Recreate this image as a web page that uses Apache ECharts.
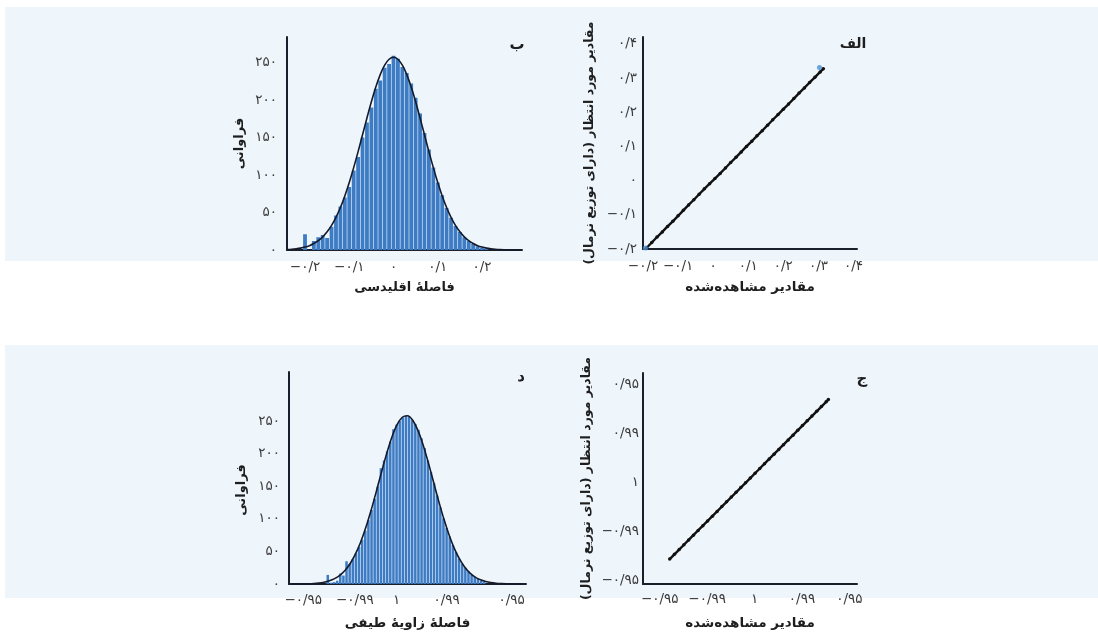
<!DOCTYPE html>
<html><head><meta charset="utf-8">
<script src="https://cdn.jsdelivr.net/npm/echarts@6/dist/echarts.min.js"></script>
<style>html,body{margin:0;padding:0;background:#fff;}#c{width:1098px;height:637px;}</style>
</head><body><div id="c"></div>
<script>
// ---------- DATA ----------
// Panel ب : histogram of Euclidean distance
const histB_centers = [-0.20,-0.19,-0.18,-0.17,-0.16,-0.15,-0.14,-0.13,-0.12,-0.11,-0.10,-0.09,-0.08,-0.07,-0.06,-0.05,-0.04,-0.03,-0.02,-0.01,0.00,0.01,0.02,0.03,0.04,0.05,0.06,0.07,0.08,0.09,0.10,0.11,0.12,0.13,0.14,0.15,0.16,0.17,0.18,0.19,0.20,0.21];
const histB_counts  = [21,0,12,17,20,16,31,46,58,70,84,106,124,150,170,190,215,226,243,248,259,255,244,236,222,203,182,156,134,110,90,73,56,43,32,24,17,12,8,5,3,2];
const curveB_x = [-0.24,-0.23,-0.22,-0.21,-0.20,-0.19,-0.18,-0.17,-0.16,-0.15,-0.14,-0.13,-0.12,-0.11,-0.10,-0.09,-0.08,-0.07,-0.06,-0.05,-0.04,-0.03,-0.02,-0.01,0.00,0.01,0.02,0.03,0.04,0.05,0.06,0.07,0.08,0.09,0.10,0.11,0.12,0.13,0.14,0.15,0.16,0.17,0.18,0.19,0.20,0.21,0.22,0.23,0.24,0.25,0.26,0.27,0.28,0.29];
const curveB_y = [0.6,1.0,1.6,2.5,3.9,5.8,8.6,12.4,17.5,24.2,32.8,43.6,56.6,72.1,89.9,109.8,131.2,153.6,176.1,197.7,217.2,233.8,246.4,254.3,257,254.3,246.4,233.8,217.2,197.7,176.1,153.6,131.2,109.8,89.9,72.1,56.6,43.6,32.8,24.2,17.5,12.4,8.6,5.8,3.9,2.5,1.6,1.0,0.6,0.35,0.2,0.1,0.06,0.03];
const ticksB_x = [-0.2,-0.1,0,0.1,0.2];
const labelsB_x = ['−۰/۲','−۰/۱','۰','۰/۱','۰/۲'];
const freqTicks = [0,50,100,150,200,250];
const freqLabels = ['۰','۵۰','۱۰۰','۱۵۰','۲۰۰','۲۵۰'];

// Panel الف : Q-Q plot
const qqA_obs = [-0.190,-0.175,-0.160,-0.145,-0.130,-0.115,-0.100,-0.085,-0.070,-0.055,-0.040,-0.025,-0.010,0.005,0.020,0.035,0.050,0.065,0.080,0.095,0.110,0.125,0.140,0.155,0.170,0.185,0.200,0.215,0.230,0.245,0.260,0.275,0.290,0.305,0.314];
const qqA_exp = [-0.197,-0.181,-0.165,-0.150,-0.134,-0.119,-0.103,-0.087,-0.071,-0.056,-0.040,-0.024,-0.009,0.006,0.021,0.037,0.053,0.068,0.084,0.100,0.115,0.131,0.146,0.162,0.178,0.193,0.209,0.224,0.240,0.256,0.271,0.287,0.302,0.318,0.327];
const qqA_outliers = [[0.303,0.331],[-0.193,-0.197]];
const ticksA = [-0.2,-0.1,0,0.1,0.2,0.3,0.4];
const labelsA = ['−۰/۲','−۰/۱','۰','۰/۱','۰/۲','۰/۳','۰/۴'];

// Panel د : histogram of spectral angle distance
const histD_centers = [-1.53,-1.47,-1.41,-1.35,-1.29,-1.23,-1.17,-1.11,-1.05,-0.99,-0.93,-0.87,-0.81,-0.75,-0.69,-0.63,-0.57,-0.51,-0.45,-0.39,-0.33,-0.27,-0.21,-0.15,-0.09,-0.03,0.03,0.09,0.15,0.21,0.27,0.33,0.39,0.45,0.51,0.57,0.63,0.69,0.75,0.81,0.87,0.93,0.99,1.05,1.11,1.17,1.23,1.29,1.35,1.41,1.47];
const histD_counts  = [14,2,3,5,16,13,35,31,38,47,57,68,82,98,114,131,150,178,190,204,219,238,245,251,256,259,258,252,246,237,224,209,190,172,155,136,118,101,86,73,60,49,39,31,25,19,14,11,8,5,3];
const curveD_x = [-2.2,-2.1,-2.0,-1.9,-1.8,-1.7,-1.6,-1.5,-1.4,-1.3,-1.2,-1.1,-1.0,-0.9,-0.8,-0.7,-0.6,-0.5,-0.4,-0.3,-0.2,-0.1,0.0,0.1,0.2,0.3,0.4,0.5,0.6,0.7,0.8,0.9,1.0,1.1,1.2,1.3,1.4,1.5,1.6,1.7,1.8,1.9,2.0,2.1,2.2];
const curveD_y = [0.05,0.1,0.21,0.43,0.83,1.56,2.82,4.92,8.28,13.4,20.9,31.6,45.8,64.2,86.7,112.9,141.8,171.7,200.5,225.7,244.9,256.4,258.7,251.7,236.2,213.7,186.4,156.8,127.1,99.4,75.0,54.5,38.2,25.8,16.8,10.6,6.4,3.75,2.1,1.15,0.6,0.3,0.15,0.07,0.03];
const ticksD_x = [-2.0,-1.01,-0.21,0.75,2.0];
const labelsD_x = ['−۰/۹۵','−۰/۹۹','۱','۰/۹۹','۰/۹۵'];

// Panel ج : Q-Q plot
const qqC_obs = [-1.79,-1.69,-1.59,-1.49,-1.39,-1.29,-1.19,-1.09,-0.99,-0.89,-0.79,-0.69,-0.59,-0.49,-0.39,-0.29,-0.19,-0.09,0.01,0.11,0.21,0.31,0.41,0.51,0.61,0.71,0.81,0.91,1.01,1.11,1.21,1.31,1.41,1.51,1.556];
const qqC_exp = [-1.558,-1.461,-1.364,-1.267,-1.169,-1.072,-0.975,-0.878,-0.781,-0.684,-0.586,-0.489,-0.392,-0.295,-0.197,-0.100,-0.003,0.094,0.192,0.289,0.386,0.483,0.580,0.678,0.775,0.872,0.969,1.066,1.164,1.261,1.358,1.455,1.552,1.649,1.694];
const ticksC = [-2,-1,0,1,2];
const labelsC = ['−۰/۹۵','−۰/۹۹','۱','۰/۹۹','۰/۹۵'];

// ---------- CHART ----------
const FONT = '"DejaVu Sans", "Noto Sans", sans-serif';
const RLM = '\u200F';
const zip = (a, b) => a.map((v, i) => [v, b[i]]);
function lab(values, labels) {
  return function (v) {
    for (let i = 0; i < values.length; i++) if (Math.abs(values[i] - v) < 1e-6) return labels[i];
    return '';
  };
}
const axisLine = {show: true, onZero: false, lineStyle: {color: '#1b1f2b', width: 2}};
function axisCfg(gridIndex, min, max, vals, labels, name, margin, nameGap, nameSize, namePad) {
  return {
    type: 'value', gridIndex, min, max, name, nameLocation: 'middle', nameGap,
    nameTextStyle: {fontFamily: FONT, fontWeight: 'bold', fontSize: nameSize, color: '#1e1e1e',
      padding: namePad || 0},
    axisLine, axisTick: {show: false}, splitLine: {show: false},
    axisLabel: {customValues: vals, formatter: lab(vals, labels), margin,
      fontFamily: FONT, fontSize: 13.5, color: '#3a3a3a'}
  };
}
function barRenderer(binW) {
  return function (params, api) {
    const c = api.value(0), h = api.value(1);
    const a = api.coord([c - binW / 2, h]);
    const b = api.coord([c + binW / 2, 0]);
    return {type: 'rect',
      shape: {x: a[0] + 0.3, y: a[1], width: Math.max(b[0] - a[0] - 0.6, 0.5), height: b[1] - a[1]},
      style: {fill: '#3d7cc4'}};
  };
}
const qqName = RLM + 'مقادیر مورد انتظار (دارای توزیع نرمال)' + RLM;
const obsName = RLM + 'مقادیر مشاهده\u200Cشده' + RLM;

const chart = echarts.init(document.getElementById('c'), null, {renderer: 'canvas'});
chart.setOption({
  backgroundColor: '#ffffff',
  animation: false,
  graphic: {elements: [
    {type: 'rect', z: -10, silent: true, shape: {x: 5, y: 7, width: 1093, height: 254}, style: {fill: '#eef5fb'}},
    {type: 'rect', z: -10, silent: true, shape: {x: 5, y: 345, width: 1093, height: 253}, style: {fill: '#eef5fb'}},
    {type: 'text', x: 517, y: 45, style: {text: 'ب', font: 'bold 15px ' + FONT, fill: '#1e1e1e', align: 'center', verticalAlign: 'middle'}},
    {type: 'text', x: 853, y: 44, style: {text: 'الف', font: 'bold 14px ' + FONT, fill: '#1e1e1e', align: 'center', verticalAlign: 'middle'}},
    {type: 'text', x: 521, y: 377, style: {text: 'د', font: 'bold 15px ' + FONT, fill: '#1e1e1e', align: 'center', verticalAlign: 'middle'}},
    {type: 'text', x: 862, y: 379, style: {text: 'ج', font: 'bold 15px ' + FONT, fill: '#1e1e1e', align: 'center', verticalAlign: 'middle'}}
  ]},
  grid: [
    {left: 287, top: 37, width: 235, height: 213},
    {left: 643, top: 37, width: 214, height: 212},
    {left: 289, top: 372, width: 237, height: 212},
    {left: 643, top: 373, width: 214, height: 211}
  ],
  xAxis: [
    axisCfg(0, -0.2407, 0.2904, ticksB_x, labelsB_x, RLM + 'فاصلهٔ اقلیدسی' + RLM, 10, 31, 13),
    axisCfg(1, -0.2, 0.41, ticksA, labelsA, obsName, 10, 31, 13.5),
    axisCfg(2, -2.274, 2.274, ticksD_x, labelsD_x, RLM + 'فاصلهٔ زاویهٔ طیفی' + RLM, 9, 32, 13.5),
    axisCfg(3, -2.353, 2.16, ticksC, labelsC, obsName, 8, 32, 13.5)
  ],
  yAxis: [
    axisCfg(0, 0, 284, freqTicks, freqLabels, 'فراوانی', 10, 41, 13),
    axisCfg(1, -0.2, 0.42, ticksA, labelsA, qqName, 6, 47, 12.5),
    axisCfg(2, 0, 326, freqTicks, freqLabels, 'فراوانی', 9, 41, 13, [0, 24, 0, 0]),
    axisCfg(3, -2.067, 2.236, ticksC, labelsC, qqName, 4, 50, 12.5)
  ],
  series: [
    {type: 'custom', xAxisIndex: 0, yAxisIndex: 0, clip: true, renderItem: barRenderer(0.01),
      encode: {x: 0, y: 1}, data: zip(histB_centers, histB_counts), z: 2},
    {type: 'line', xAxisIndex: 0, yAxisIndex: 0, data: zip(curveB_x, curveB_y), showSymbol: false,
      symbol: 'none', smooth: 0.3, lineStyle: {color: '#141a2a', width: 1.6}, z: 3},
    {type: 'line', xAxisIndex: 1, yAxisIndex: 1, data: zip(qqA_obs, qqA_exp), symbol: 'circle', symbolSize: 3.5,
      itemStyle: {color: '#111'}, lineStyle: {color: '#111', width: 2.4}, z: 3},
    {type: 'scatter', xAxisIndex: 1, yAxisIndex: 1, data: qqA_outliers, symbolSize: 5,
      itemStyle: {color: '#4b8fd1'}, z: 4},
    {type: 'custom', xAxisIndex: 2, yAxisIndex: 2, clip: true, renderItem: barRenderer(0.06),
      encode: {x: 0, y: 1}, data: zip(histD_centers, histD_counts), z: 2},
    {type: 'line', xAxisIndex: 2, yAxisIndex: 2, data: zip(curveD_x, curveD_y), showSymbol: false,
      symbol: 'none', smooth: 0.3, lineStyle: {color: '#141a2a', width: 1.6}, z: 3},
    {type: 'line', xAxisIndex: 3, yAxisIndex: 3, data: zip(qqC_obs, qqC_exp), symbol: 'circle', symbolSize: 3.5,
      itemStyle: {color: '#111'}, lineStyle: {color: '#111', width: 2.4}, z: 3}
  ]
});
</script></body></html>
